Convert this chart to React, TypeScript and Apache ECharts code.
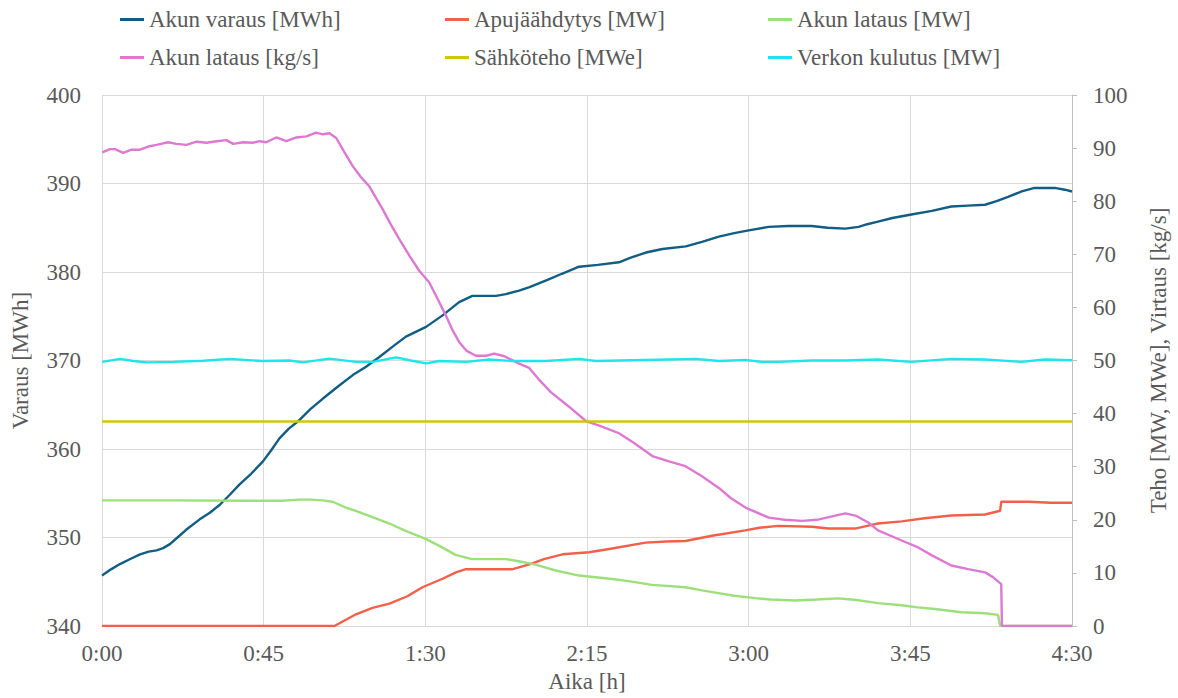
import React, { useEffect, useRef } from "react";
import * as echarts from "echarts";

// time in minutes, value
const varausData: [number, number][] = [
  [0, 345.7], [2.5, 346.4], [5, 347.0], [8, 347.6], [10.6, 348.1], [13, 348.4], [15.2, 348.55],
  [17, 348.8], [18.9, 349.25], [21, 350.0], [23.5, 350.9], [27.2, 352.05], [30, 352.8], [32.8, 353.7],
  [35.5, 354.8], [38.3, 356.0], [41.5, 357.2], [44.8, 358.6], [47, 359.8], [49.4, 361.2], [52, 362.3],
  [54.5, 363.1], [58, 364.5], [61.5, 365.7], [65.5, 367.0], [69.8, 368.35], [73.5, 369.3], [77.2, 370.4],
  [81, 371.6], [84.6, 372.7], [90.2, 373.8], [94.8, 375.1], [99.4, 376.6], [103.1, 377.3], [106.9, 377.3],
  [109.7, 377.3], [112.4, 377.5], [116.1, 377.9], [119, 378.3], [124, 379.1], [128, 379.8], [132.8, 380.6],
  [138, 380.8], [143.9, 381.1], [147, 381.6], [151.4, 382.2], [156, 382.6], [162.5, 382.9], [167, 383.4],
  [171.7, 384.0], [176, 384.4], [180, 384.7], [185.6, 385.1], [191, 385.2], [197.5, 385.2], [202, 385.0],
  [206.9, 384.9], [210.6, 385.1], [213, 385.4], [216, 385.7], [220, 386.1], [225.3, 386.5], [231, 386.9],
  [236.4, 387.4], [241, 387.5], [245.8, 387.6], [249, 388.0], [252.2, 388.5], [256, 389.1], [259.6, 389.5],
  [265.2, 389.5], [268, 389.3], [270, 389.1],
];

const apujaahdytysData: [number, number][] = [
  [0, 0], [64.7, 0], [70.7, 2.2], [75.3, 3.4], [80, 4.2], [85, 5.6], [89.2, 7.3], [94.8, 8.9],
  [98.5, 10.1], [101.3, 10.7], [105, 10.7], [114.3, 10.7], [119, 11.6], [123, 12.6], [128.2, 13.5],
  [135.6, 13.9], [142, 14.6], [151.3, 15.7], [157, 15.9], [162.4, 16.0], [169.8, 17.0], [179.1, 18.0],
  [183, 18.5], [188.3, 18.85], [197.6, 18.7], [202.2, 18.35], [209.6, 18.35], [213.3, 18.9], [216, 19.3],
  [222.6, 19.7], [229, 20.3], [236.4, 20.8], [245.8, 21.0], [250, 21.7], [250.3, 23.4], [258, 23.4],
  [264, 23.2], [270, 23.2],
];

const latausMWData: [number, number][] = [
  [0, 23.65], [20, 23.65], [40, 23.6], [50, 23.6], [55, 23.8], [58, 23.8], [61.4, 23.65], [64.2, 23.4],
  [67.9, 22.3], [71, 21.6], [75.3, 20.5], [80, 19.3], [84.5, 17.9], [90.1, 16.4], [94.7, 14.8],
  [98.4, 13.4], [103, 12.6], [107.6, 12.6], [112.4, 12.6], [116, 12.2], [120.7, 11.55], [126, 10.5],
  [132.8, 9.5], [142, 8.86], [147, 8.4], [153.1, 7.74], [162.4, 7.3], [167, 6.7], [171.6, 6.2],
  [176, 5.7], [181.8, 5.24], [186, 5.0], [192.9, 4.8], [199, 5.0], [204.9, 5.2], [210, 4.9], [216, 4.3],
  [222.6, 3.9], [227, 3.5], [231.9, 3.2], [239.2, 2.6], [245.8, 2.4], [249.4, 2.1], [250, 0], [270, 0],
];

const latausKgsData: [number, number][] = [
  [0.1, 89.2], [2.2, 89.8], [3.6, 89.8], [5.9, 89.1], [8.2, 89.7], [10.6, 89.7], [12.9, 90.3],
  [15.2, 90.6], [18.4, 91.1], [20.7, 90.8], [23.5, 90.6], [26.3, 91.2], [29.1, 91.0], [31.9, 91.3],
  [34.6, 91.5], [36.5, 90.8], [39.3, 91.1], [42, 91.0], [43.9, 91.3], [45.7, 91.1], [48.5, 92.0],
  [51.3, 91.3], [54.1, 92.0], [56.9, 92.2], [59.6, 92.9], [61.5, 92.6], [63.3, 92.8], [65.2, 91.9],
  [67.5, 89.2], [69.8, 86.6], [72, 84.6], [74.4, 82.8], [78.1, 78.5], [80.5, 75.5], [82.8, 72.8],
  [85.6, 69.7], [88.3, 66.9], [91.1, 64.7], [93.5, 61.5], [95.7, 58.5], [97.5, 55.8], [99.4, 53.5],
  [101.5, 51.8], [104.1, 50.9], [106.9, 50.9], [109.2, 51.3], [112, 50.8], [116.1, 49.4], [118.9, 48.6],
  [121.5, 46.5], [125, 44.0], [130, 41.3], [134.7, 38.6], [139, 37.6], [143.9, 36.3], [148, 34.5],
  [153.2, 32.0], [157.8, 31.0], [162.4, 30.1], [167, 28.2], [171.7, 26.0], [175, 24.1], [179.1, 22.3],
  [185.6, 20.4], [190, 20.0], [194.9, 19.8], [199, 20.0], [202.3, 20.5], [206.9, 21.2], [209.7, 20.8],
  [213.3, 19.5], [216, 18.0], [222.6, 16.1], [227.2, 14.8], [231, 13.3], [236.4, 11.4], [241.1, 10.7],
  [245.8, 10.1], [248, 9.2], [250.3, 7.9], [250.5, 0], [270, 0],
];

const sahkotehoData: [number, number][] = [
  [0, 38.5], [270, 38.5],
];

const verkonData: [number, number][] = [
  [0.1, 49.75], [5, 50.3], [8.7, 49.9], [12.4, 49.65], [19.8, 49.75], [28.1, 49.95], [35.6, 50.3],
  [44.8, 49.9], [52.2, 50.0], [55.9, 49.65], [63.3, 50.35], [70.7, 49.75], [75.4, 49.75], [81.9, 50.6],
  [85.6, 50.05], [90.2, 49.45], [93.9, 49.9], [101.3, 49.75], [107.8, 50.2], [114.3, 49.9], [123.5, 49.9],
  [132.8, 50.3], [137.4, 49.9], [151.3, 50.1], [165.2, 50.3], [171.7, 49.9], [179.1, 50.1], [183.7, 49.75],
  [188.3, 49.75], [197.6, 50.0], [206.9, 50.0], [216, 50.2], [225.3, 49.75], [236.4, 50.3], [245.7, 50.2],
  [255.9, 49.75], [262.4, 50.2], [270, 50.05],
];

const seriesNames = [
  "Akun varaus [MWh]",
  "Apujäähdytys [MW]",
  "Akun lataus [MW]",
  "Akun lataus [kg/s]",
  "Sähköteho [MWe]",
  "Verkon kulutus [MW]",
];
const seriesColors = ["#115d84", "#f2604a", "#9ddf7b", "#dd79d2", "#cfc700", "#1ae6ec"];

const FONT = "Liberation Serif";
const FS = 23;
const TXT = "#595959";

export default function App() {
  const ref = useRef<HTMLDivElement>(null);
  useEffect(() => {
    if (!ref.current) return;
    const chart = echarts.init(ref.current, null, { renderer: "svg" });
    const dataSets = [varausData, apujaahdytysData, latausMWData, latausKgsData, sahkotehoData, verkonData];
    const legendPos = [
      { left: 120, top: 8 }, { left: 445, top: 8 }, { left: 768, top: 8 },
      { left: 120, top: 46 }, { left: 445, top: 46 }, { left: 768, top: 46 },
    ];
    chart.setOption({
      animation: false,
      backgroundColor: "#ffffff",
      textStyle: { fontFamily: FONT },
      legend: seriesNames.map((n, i) => ({
        data: [n],
        left: legendPos[i].left,
        top: legendPos[i].top,
        padding: 0,
        icon: "rect",
        itemWidth: 24,
        itemHeight: 3,
        selectedMode: false,
        textStyle: { fontFamily: FONT, fontSize: FS, color: TXT },
      })),
      grid: { left: 102, right: 104, top: 95, bottom: 69, containLabel: false },
      xAxis: {
        type: "value",
        min: 0,
        max: 270,
        interval: 45,
        name: "Aika [h]",
        nameLocation: "middle",
        nameGap: 44,
        nameTextStyle: { fontFamily: FONT, fontSize: FS, color: TXT },
        axisLine: { show: true, lineStyle: { color: "#d9d9d9", width: 1 } },
        axisTick: { show: false },
        axisLabel: {
          fontFamily: FONT, fontSize: FS, color: TXT, margin: 16,
          formatter: (v: number) => `${Math.floor(v / 60)}:${String(v % 60).padStart(2, "0")}`,
        },
        splitLine: { show: true, lineStyle: { color: "#d9d9d9", width: 1 } },
      },
      yAxis: [
        {
          type: "value",
          min: 340,
          max: 400,
          interval: 10,
          name: "Varaus [MWh]",
          nameLocation: "middle",
          nameRotate: 90,
          nameGap: 70,
          nameTextStyle: { fontFamily: FONT, fontSize: FS, color: TXT },
          axisLine: { show: true, lineStyle: { color: "#d9d9d9", width: 1 } },
          axisTick: { show: false },
          axisLabel: { fontFamily: FONT, fontSize: FS, color: TXT, margin: 21 },
          splitLine: { show: true, lineStyle: { color: "#d9d9d9", width: 1 } },
        },
        {
          type: "value",
          min: 0,
          max: 100,
          interval: 10,
          position: "right",
          name: "Teho [MW, MWe], Virtaus [kg/s]",
          nameLocation: "middle",
          nameRotate: 90,
          nameGap: 75,
          nameTextStyle: { fontFamily: FONT, fontSize: FS, color: TXT },
          axisLine: { show: true, lineStyle: { color: "#bfbfbf", width: 1 } },
          axisTick: { show: true, inside: false, length: 5, lineStyle: { color: "#bfbfbf" } },
          axisLabel: { fontFamily: FONT, fontSize: FS, color: TXT, margin: 21 },
          splitLine: { show: false },
        },
      ],
      series: seriesNames.map((n, i) => ({
        name: n,
        type: "line",
        yAxisIndex: i === 0 ? 0 : 1,
        data: dataSets[i],
        showSymbol: false,
        symbol: "none",
        color: seriesColors[i],
        lineStyle: { width: 2.4, color: seriesColors[i] },
        emphasis: { disabled: true },
      })),
    });
    return () => chart.dispose();
  }, []);
  return <div ref={ref} style={{ position: "fixed", left: 0, top: 0, width: 1178, height: 698 }} />;
}
